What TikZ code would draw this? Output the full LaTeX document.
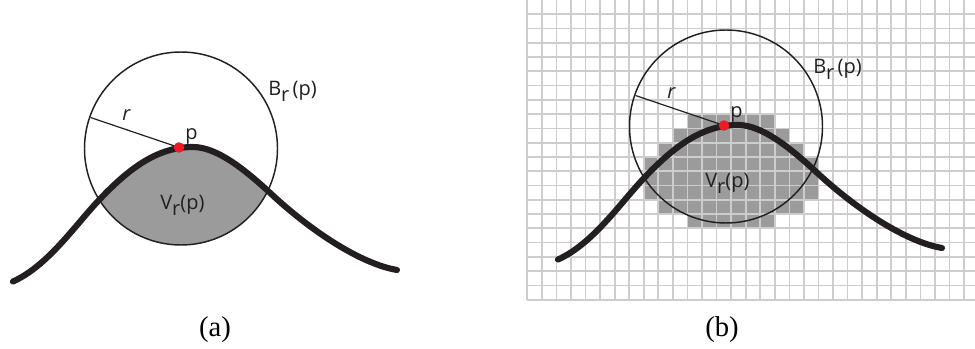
\documentclass[tikz,border=0pt]{standalone}
\usepackage{fontspec}
\setmainfont{Liberation Serif}
\newfontfamily\labelfont{Open Sans}
\usetikzlibrary{positioning}
\definecolor{CellGrey}{HTML}{9B9B9B}
\definecolor{GridGrey}{HTML}{CDCDCD}
\definecolor{PointRed}{HTML}{ED1C24}
\definecolor{InkBlack}{HTML}{231F20}
\newcommand{\subr}{\raisebox{-4.3pt}{r}}
\newcommand{\bumppath}{(13,281.5) .. controls (48,265.75) and (75,225.25) .. (100,199)
  .. controls (130,167.5) and (158,147) .. (193,147)
  .. controls (218,147) and (247,172) .. (267,190)
  .. controls (312,232.75) and (362,264) .. (397,270)}
\tikzset{
  % thick curve through p
  bump/.style={line width=4.6pt, line cap=round, draw=InkBlack},
  % ball outline
  ball/.style={line width=1.1pt, draw=InkBlack},
  % radius segment
  rad/.style={line width=0.9pt, draw=InkBlack},
  % the point p
  dot/.style={fill=PointRed},
  % pixel grid lines
  gridline/.style={draw=GridGrey, line width=1.3pt},
  % math labels
  lbl/.style={inner sep=0pt, text=InkBlack, font=\labelfont\fontsize{15}{17}\selectfont},
  % panel caption
  captext/.style={inner sep=0pt, font=\fontsize{21.5}{24}\selectfont}
}
\begin{document}
\begin{tikzpicture}[x=0.75pt, y=-0.75pt]
  \useasboundingbox (0,0) rectangle (975,349);

  % (a) ball cut by the curve
  \begin{scope}
    \clip (181,148.5) circle[radius=96.5];
    \fill[CellGrey] \bumppath -- (397,349) -- (13,349) -- cycle;
  \end{scope}
  \coordinate (pa) at (179,147.5);
  \coordinate (ra) at (90.5,117.5);
  \draw[ball] (181,148.5) circle[radius=96.5];
  \draw[rad] (pa) -- (ra);
  \draw[bump] \bumppath;
  \fill[dot] (pa) circle[radius=5.3];
  \node[lbl, anchor=base west] (ba) at (268,96) {B\subr\,(p)};
  \node[lbl, anchor=base west] (la) at (185,139.5) {p};
  \node[lbl, anchor=base west] (rla) at (122,121) {\itshape r};
  \node[lbl, anchor=base west] (va) at (160,210) {V\subr(p)};
  \node[captext, anchor=base] (capa) at (215,336) {(a)};

  % (b) pixel grid
  \foreach \r/\ca/\cb in {8/11/16, 9/10/17, 10/9/18, 11/8/19, 12/8/19, 13/8/19, 14/9/18, 15/11/16}
    \fill[CellGrey] ({527.3+14.56*\ca},{14.27*\r}) rectangle ({527.3+14.56*(\cb+1)},{14.27*(\r+1)});
  \foreach \i in {0,...,30}
    \draw[gridline] ({527.3+14.56*\i},0) -- ({527.3+14.56*\i},299.7);
  \foreach \j in {1,...,21}
    \draw[gridline] (527.3,{14.27*\j}) -- (975,{14.27*\j});

  % (b) same ball, shifted
  \begin{scope}[shift={(545,-22)}]
    \coordinate (pb) at (179,147.5);
    \coordinate (rb) at (90.5,117.5);
    \draw[ball] (181,148.5) circle[radius=96.5];
    \draw[rad] (pb) -- (rb);
    \draw[bump] \bumppath;
    \fill[dot] (pb) circle[radius=5.3];
    \node[lbl, anchor=base west] (bb) at (268,96) {B\subr\,(p)};
    \node[lbl, anchor=base west] (lb) at (185,139.5) {p};
    \node[lbl, anchor=base west] (rlb) at (122,121) {\itshape r};
    \node[lbl, anchor=base west] (vb) at (160,210) {V\subr(p)};
  \end{scope}
  \node[captext, anchor=base] (capb) at (722,336) {(b)};
\end{tikzpicture}
\end{document}
